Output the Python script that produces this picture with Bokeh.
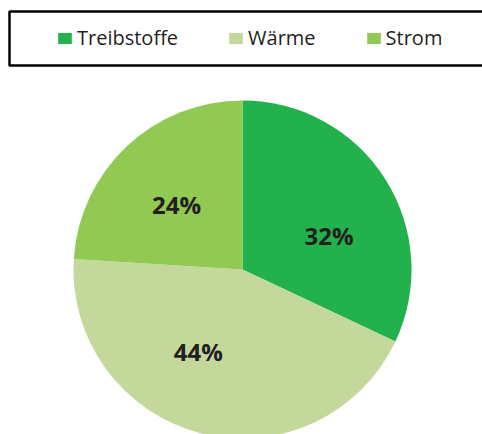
import numpy as np
from bokeh.plotting import figure
from bokeh.models import ColumnDataSource, Range1d, BoxAnnotation, Legend, LegendItem
from bokeh.core.properties import value
from bokeh.embed import file_html
from bokeh.resources import INLINE

# ---- data ----
categories = ["Treibstoffe", "Wärme", "Strom"]
shares = [32, 44, 24]
labels = ["32%", "44%", "24%"]
colors = ["#22B14C", "#C5D89C", "#92C953"]

# ---- layout (pixel coordinates, y measured from top of window) ----
W, H = 482, 434
cx, cy_page, R = 242, 269, 169
label_r = 0.55
label_angle_shift_deg = [-11, -14, 2]

p = figure(width=W, height=H, output_backend="svg", toolbar_location=None,
           x_range=Range1d(0, W), y_range=Range1d(0, H),
           min_border=0, outline_line_color=None)
p.axis.visible = False
p.grid.visible = False
p.background_fill_color = "white"

cy = H - cy_page
vals = np.array(shares, dtype=float)
ang = vals / vals.sum() * 2 * np.pi
end = np.pi / 2 - np.cumsum(ang)          # clockwise from 12 o'clock
start = end + ang
mid = (start + end) / 2 + np.radians(label_angle_shift_deg)

src = ColumnDataSource(dict(cat=categories, start=start, end=end, color=colors,
                            lx=cx + label_r * R * np.cos(mid),
                            ly=cy + label_r * R * np.sin(mid),
                            lab=labels))

wedges = p.wedge(x=cx, y=cy, radius=R, start_angle="end", end_angle="start",
                 direction="anticlock", fill_color="color", line_color=None, source=src)

p.text(x="lx", y="ly", text="lab", source=src, text_align="center", text_baseline="middle",
       text_font=value("Open Sans"), text_font_style="bold", text_font_size="24px",
       text_color="#231F20")

# legend frame
p.add_layout(BoxAnnotation(left=9, right=520, bottom=H - 65, top=H - 11,
                           fill_alpha=0, line_color="black", line_alpha=1, line_width=2.5))

items = [LegendItem(label=c, renderers=[wedges], index=i) for i, c in enumerate(categories)]
legend = Legend(items=items, orientation="horizontal", location=(56, H - 51),
                glyph_width=17, glyph_height=14, label_standoff=4, spacing=49,
                padding=0, margin=0, border_line_color=None, background_fill_alpha=0,
                label_text_font="Open Sans", label_text_font_size="20px",
                label_text_color="#231F20", label_height=14)
p.add_layout(legend)

open("out.html", "w").write(file_html(p, INLINE))
